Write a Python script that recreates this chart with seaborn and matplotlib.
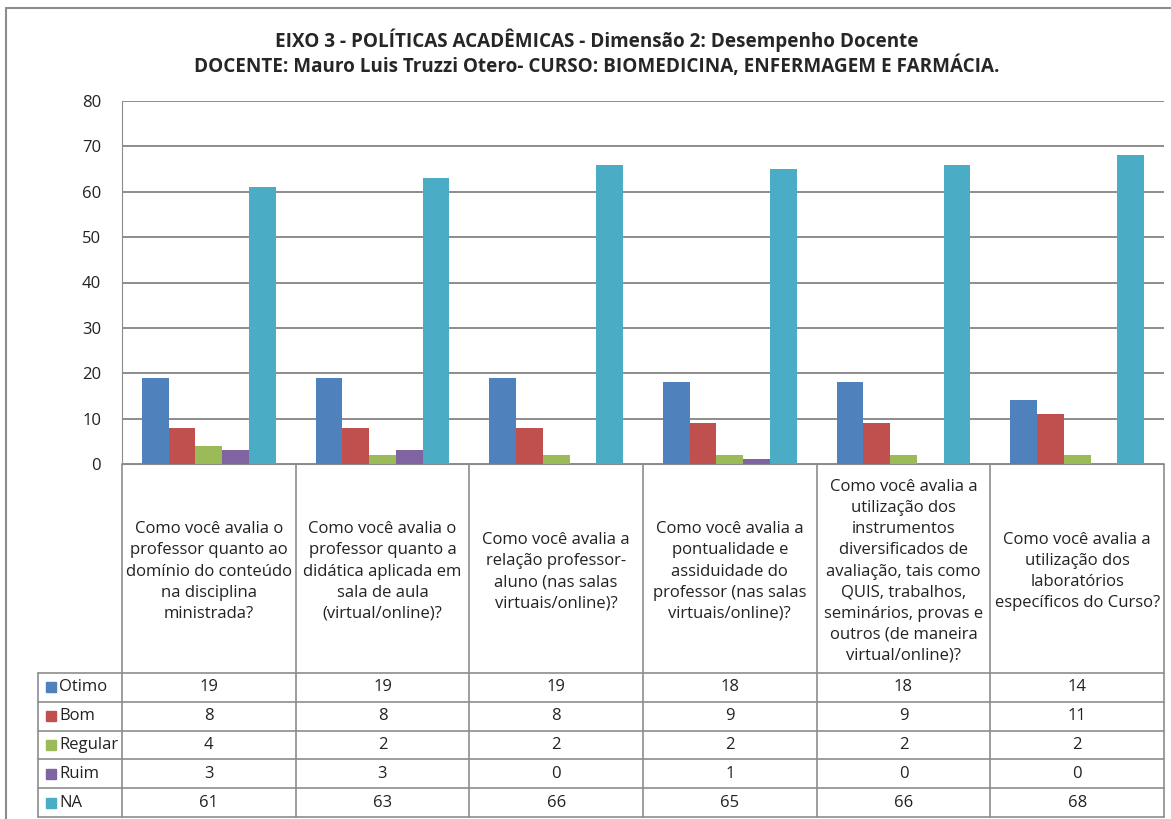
import numpy as np
import pandas as pd
import matplotlib
matplotlib.use("Agg")
import matplotlib.pyplot as plt
from matplotlib.lines import Line2D
from matplotlib.patches import Rectangle
import seaborn as sns

# data
perguntas = [
    "Como você avalia o\nprofessor quanto ao\ndomínio do conteúdo\nna disciplina\nministrada?",
    "Como você avalia o\nprofessor quanto a\ndidática aplicada em\nsala de aula\n(virtual/online)?",
    "Como você avalia a\nrelação professor-\naluno (nas salas\nvirtuais/online)?",
    "Como você avalia a\npontualidade e\nassiduidade do\nprofessor (nas salas\nvirtuais/online)?",
    "Como você avalia a\nutilização dos\ninstrumentos\ndiversificados de\navaliação, tais como\nQUIS, trabalhos,\nseminários, provas e\noutros (de maneira\nvirtual/online)?",
    "Como você avalia a\nutilização dos\nlaboratórios\nespecíficos do Curso?",
]
conceitos = ["Otimo", "Bom", "Regular", "Ruim", "NA"]
otimo = [19, 19, 19, 18, 18, 14]
bom = [8, 8, 8, 9, 9, 11]
regular = [4, 2, 2, 2, 2, 2]
ruim = [3, 3, 0, 1, 0, 0]
na = [61, 63, 66, 65, 66, 68]
cores = ["#4F81BD", "#C0504D", "#9BBB59", "#8064A2", "#4BACC6"]

series = [otimo, bom, regular, ruim, na]
rows = []
for nome, vals in zip(conceitos, series):
    for i, v in enumerate(vals):
        rows.append({"pergunta": i, "conceito": nome, "valor": v})
df = pd.DataFrame(rows)

sns.set_style("white")
plt.rcParams["font.family"] = ["Open Sans", "DejaVu Sans"]

W, H = 1171, 819
fig = plt.figure(figsize=(W / 100, H / 100), dpi=100)

# plot area in pixels
x0, x1, ytop, ybot = 122, 1164, 101, 464
ax = fig.add_axes([x0 / W, 1 - ybot / H, (x1 - x0) / W, (ybot - ytop) / H])
sns.barplot(data=df, x="pergunta", y="valor", hue="conceito", hue_order=conceitos,
            palette=cores, width=0.77, saturation=1, legend=False, ax=ax,
            edgecolor="none", errorbar=None)
ax.set_xlim(-0.5, len(perguntas) - 0.5)
ax.set_ylim(0, 80)
ax.set_yticks(range(0, 81, 10))
ax.yaxis.grid(True, color="#8C8C8C", linewidth=1.4)
ax.set_axisbelow(True)
ax.set_xticks([])
ax.set_xlabel("")
ax.set_ylabel("")
for s in ["top", "right"]:
    ax.spines[s].set_visible(False)
ax.spines["left"].set_color("#8C8C8C")
ax.spines["bottom"].set_color("#8C8C8C")
ax.tick_params(axis="y", labelsize=12, colors="#222222", length=0, pad=15)

# overlay axes in pixel coordinates for title, frame and data table
ov = fig.add_axes([0, 0, 1, 1], zorder=-1)
ov.set_xlim(0, W)
ov.set_ylim(H, 0)
ov.axis("off")

ov.text(597, 40, "EIXO 3 - POLÍTICAS ACADÊMICAS - Dimensão 2: Desempenho Docente",
        ha="center", va="center", fontsize=13.6, fontweight="bold")
ov.text(597, 66, "DOCENTE: Mauro Luis Truzzi Otero- CURSO: BIOMEDICINA, ENFERMAGEM E FARMÁCIA.",
        ha="center", va="center", fontsize=13.6, fontweight="bold")

# chart border
ov.add_line(Line2D([6, 6], [8, H], color="#8C8C8C", lw=1.5))
ov.add_line(Line2D([6, W], [8, 8], color="#8C8C8C", lw=1.5))

lc = "#8C8C8C"
n = len(perguntas)
colx = np.linspace(x0, x1, n + 1)
row_top = 673
row_h = 28.8
row_bot = row_top + row_h * len(conceitos)
tab_left = 38

# vertical lines
for cx in colx:
    ov.add_line(Line2D([cx, cx], [ybot, row_bot], color=lc, lw=1.2))
ov.add_line(Line2D([tab_left, tab_left], [row_top, row_bot], color=lc, lw=1.2))
# horizontal lines
for k in range(len(conceitos) + 1):
    yy = row_top + k * row_h
    ov.add_line(Line2D([tab_left, x1], [yy, yy], color=lc, lw=1.2))

# category labels
for i, txt in enumerate(perguntas):
    ov.text((colx[i] + colx[i + 1]) / 2, (ybot + row_top) / 2 + 3, txt,
            ha="center", va="center", fontsize=12, color="#222222", linespacing=1.42)

# rows with legend keys and values
for r, (nome, vals, cor) in enumerate(zip(conceitos, series, cores)):
    yc = row_top + (r + 0.5) * row_h
    ov.add_patch(Rectangle((46, yc - 5), 10, 10, color=cor))
    ov.text(59, yc, nome, ha="left", va="center", fontsize=12, color="#222222")
    for i, v in enumerate(vals):
        ov.text((colx[i] + colx[i + 1]) / 2, yc, str(v), ha="center", va="center",
                fontsize=12, color="#222222")

fig.savefig("out.png", dpi=100)
